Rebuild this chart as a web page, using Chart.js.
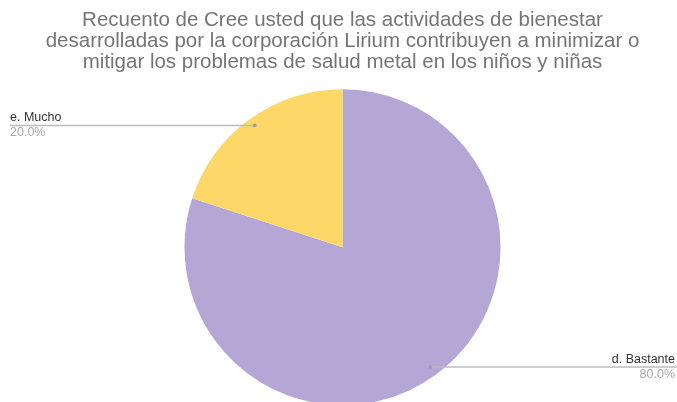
<!DOCTYPE html>
<html>
<head>
<meta charset="utf-8">
<script src="https://cdn.jsdelivr.net/npm/chart.js@4"></script>
<style>
  html, body { margin: 0; padding: 0; background: #fff; }
  #wrap { width: 677px; height: 402px; }
</style>
</head>
<body>
<div id="wrap"><canvas id="pieChart" width="677" height="402"></canvas></div>
<script>
// Datos del gráfico
const categorias = ["d. Bastante", "e. Mucho"];
const valores = [80, 20];
const colores = ["#b4a7d6", "#fdd768"];
const titulo = [
  "Recuento de Cree usted que las actividades de bienestar",
  "desarrolladas por la corporación Lirium contribuyen a minimizar o",
  "mitigar los problemas de salud metal en los niños y niñas"
];

// Etiquetas con línea guía (estilo hoja de cálculo)
const leaderLabels = {
  id: "leaderLabels",
  afterDraw(chart) {
    const ctx = chart.ctx;
    const meta = chart.getDatasetMeta(0);
    const total = valores.reduce((a, b) => a + b, 0);
    meta.data.forEach((arc, i) => {
      const mid = (arc.startAngle + arc.endAngle) / 2;
      const r = arc.outerRadius * 0.945;
      const px = arc.x + Math.cos(mid) * r;
      const py = arc.y + Math.sin(mid) * r - 1;
      const right = Math.cos(mid) > 0;
      const endX = right ? chart.width : 10;

      ctx.save();
      ctx.strokeStyle = "#bcbcbc";
      ctx.lineWidth = 1.5;
      ctx.beginPath();
      ctx.moveTo(px, py);
      ctx.lineTo(endX, py);
      ctx.stroke();
      ctx.fillStyle = "#9e9e9e";
      ctx.beginPath();
      ctx.arc(px, py, 1.8, 0, Math.PI * 2);
      ctx.fill();

      ctx.font = "12.5px 'Liberation Sans', Arial, sans-serif";
      ctx.textAlign = right ? "right" : "left";
      ctx.textBaseline = "alphabetic";
      const tx = right ? chart.width - 2 : 10;
      ctx.fillStyle = "#333333";
      ctx.fillText(categorias[i], tx, py - 4);
      ctx.fillStyle = "#a8a8a8";
      const pct = (valores[i] / total * 100).toFixed(1) + "%";
      ctx.fillText(pct, tx, py + 11);
      ctx.restore();
    });
  }
};

const pieChart = new Chart(document.getElementById("pieChart").getContext("2d"), {
  type: "pie",
  data: {
    labels: categorias,
    datasets: [
      {
        data: valores,
        backgroundColor: colores,
        borderWidth: 0,
        radius: 158
      }
    ]
  },
  options: {
    responsive: false,
    animation: false,
    layout: { padding: { top: 0, bottom: 0, left: 8 } },
    plugins: {
      legend: { display: false },
      tooltip: { enabled: false },
      title: {
        display: true,
        text: titulo,
        color: "#757575",
        font: { family: "'Liberation Sans', Arial, sans-serif", size: 20.5, weight: "normal", lineHeight: 1.03 },
        padding: { top: 10, bottom: 19 }
      }
    }
  },
  plugins: [leaderLabels]
});
</script>
</body>
</html>
